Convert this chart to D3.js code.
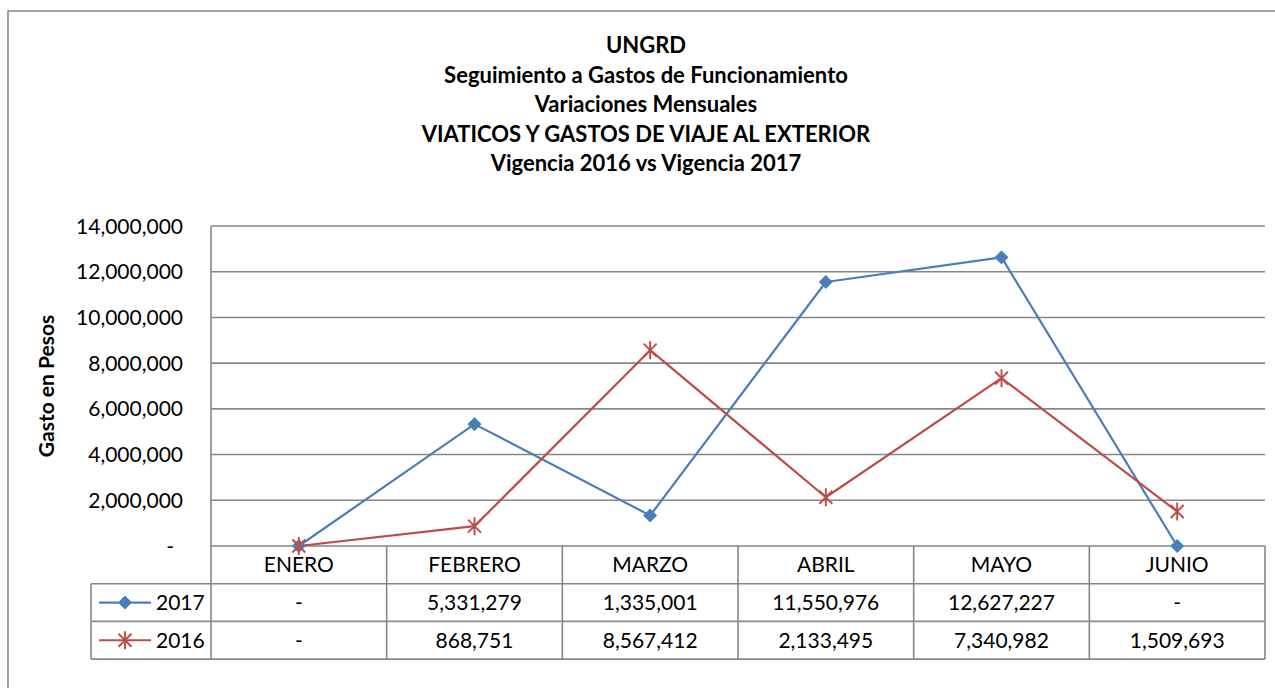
<!DOCTYPE html>
<html>
<head>
<meta charset="utf-8">
<script src="https://cdnjs.cloudflare.com/ajax/libs/d3/7.8.5/d3.min.js"></script>
<style>
  html, body { margin: 0; padding: 0; background: #fff; }
  svg { display: block; font-family: Lato, "Open Sans", sans-serif; }
</style>
</head>
<body>
<svg id="chart" width="1275" height="688"></svg>
<script>
// Monthly travel expenses abroad, 2017 vs 2016
const months = ["ENERO", "FEBRERO", "MARZO", "ABRIL", "MAYO", "JUNIO"];
const values2017 = [0, 5331279, 1335001, 11550976, 12627227, 0];
const values2016 = [0, 868751, 8567412, 2133495, 7340982, 1509693];
const yTicks = [0, 2000000, 4000000, 6000000, 8000000, 10000000, 12000000, 14000000];
const titleLines = [
  "UNGRD",
  "Seguimiento a Gastos de Funcionamiento",
  "Variaciones Mensuales",
  "VIATICOS Y GASTOS DE VIAJE AL EXTERIOR",
  "Vigencia 2016 vs Vigencia 2017"
];
const seriesNames = ["2017", "2016"];

const series = [
  { name: seriesNames[0], values: values2017, color: "#4a7ebb", marker: "diamond" },
  { name: seriesNames[1], values: values2016, color: "#be4b48", marker: "star" }
];

const svg = d3.select("#chart");
const gridColor = "#878787";
const labelSize = 21;

const plot = { left: 211, right: 1265, top: 226, bottom: 546 };
const rowH = 37.7;
const legendLeft = 91;

const x = d3.scaleBand().domain(months).range([plot.left, plot.right]).padding(0);
const y = d3.scaleLinear().domain([0, 14000000]).range([plot.bottom, plot.top]);

const fmt = v => v === 0 ? "-" : d3.format(",")(v);

// Outer frame (top and left edges visible)
svg.append("path")
  .attr("d", `M8,688 V11 H1275`)
  .attr("fill", "none")
  .attr("stroke", gridColor)
  .attr("stroke-width", 1.6);

// Title
const title = svg.append("text")
  .attr("text-anchor", "middle")
  .attr("font-weight", "bold")
  .attr("font-size", 22)
  .attr("fill", "#000");
titleLines.forEach((t, i) => {
  title.append("tspan").attr("x", 646).attr("y", 53 + i * 29.6).text(t);
});

// Horizontal gridlines
svg.append("g")
  .selectAll("line")
  .data(yTicks)
  .join("line")
  .attr("x1", plot.left).attr("x2", plot.right)
  .attr("y1", d => y(d)).attr("y2", d => y(d))
  .attr("stroke", gridColor).attr("stroke-width", 1.6);

// Y axis line
svg.append("line")
  .attr("x1", plot.left).attr("x2", plot.left)
  .attr("y1", plot.top).attr("y2", plot.bottom)
  .attr("stroke", gridColor).attr("stroke-width", 1.6);

// Y axis labels
svg.append("g")
  .selectAll("text")
  .data(yTicks)
  .join("text")
  .attr("x", d => d === 0 ? 174 : 183)
  .attr("y", d => y(d))
  .attr("dy", "0.36em")
  .attr("text-anchor", "end")
  .attr("font-size", labelSize)
  .attr("fill", "#000")
  .text(fmt);

// Y axis title
svg.append("text")
  .attr("transform", `translate(54,${(plot.top + plot.bottom) / 2}) rotate(-90)`)
  .attr("text-anchor", "middle")
  .attr("font-weight", "bold")
  .attr("font-size", 21)
  .attr("fill", "#000")
  .text("Gasto en Pesos");

// Data table
const table = svg.append("g");
const rowTop = i => plot.bottom + rowH * i;
const tableBottom = rowTop(3);

// Column separators
const colEdges = months.map(m => x(m)).concat([plot.right]);
table.selectAll("line.col")
  .data(colEdges)
  .join("line")
  .attr("class", "col")
  .attr("x1", d => d).attr("x2", d => d)
  .attr("y1", plot.bottom).attr("y2", tableBottom)
  .attr("stroke", gridColor).attr("stroke-width", 1.6);

// Legend column left edge
table.append("line")
  .attr("x1", legendLeft).attr("x2", legendLeft)
  .attr("y1", rowTop(1)).attr("y2", tableBottom)
  .attr("stroke", gridColor).attr("stroke-width", 1.6);

// Row separators
[1, 2, 3].forEach(i => {
  table.append("line")
    .attr("x1", legendLeft).attr("x2", plot.right)
    .attr("y1", rowTop(i)).attr("y2", rowTop(i))
    .attr("stroke", gridColor).attr("stroke-width", 1.6);
});

// Category labels
table.selectAll("text.cat")
  .data(months)
  .join("text")
  .attr("class", "cat")
  .attr("x", d => x(d) + x.bandwidth() / 2)
  .attr("y", rowTop(0) + rowH / 2)
  .attr("dy", "0.36em")
  .attr("text-anchor", "middle")
  .attr("font-size", labelSize)
  .attr("fill", "#000")
  .text(d => d);

// Marker shapes
function markerPath(kind) {
  if (kind === "diamond") {
    const r = 6.5;
    return `M0,${-r}L${r},0L0,${r}L${-r},0Z`;
  }
  const r = 9;
  const d = r * 0.72;
  return `M0,${-r}V${r}M${-d},${-d}L${d},${d}M${-d},${d}L${d},${-d}`;
}

function drawMarker(g, kind, color) {
  g.append("path")
    .attr("d", markerPath(kind))
    .attr("fill", kind === "diamond" ? color : "none")
    .attr("stroke", color)
    .attr("stroke-width", kind === "diamond" ? 1 : 1.9);
}

// Series rows in table
series.forEach((s, si) => {
  const cy = rowTop(si + 1) + rowH / 2;
  const lg = table.append("g");
  lg.append("line")
    .attr("x1", 99).attr("x2", 151)
    .attr("y1", cy).attr("y2", cy)
    .attr("stroke", s.color).attr("stroke-width", 2.2);
  drawMarker(lg.append("g").attr("transform", `translate(125,${cy})`), s.marker, s.color);
  lg.append("text")
    .attr("x", 156).attr("y", cy).attr("dy", "0.36em")
    .attr("font-size", labelSize).attr("fill", "#000")
    .text(s.name);

  table.append("g")
    .selectAll("text")
    .data(s.values)
    .join("text")
    .attr("x", (d, i) => x(months[i]) + x.bandwidth() / 2)
    .attr("y", cy)
    .attr("dy", "0.36em")
    .attr("text-anchor", "middle")
    .attr("font-size", labelSize)
    .attr("fill", "#000")
    .text(fmt);
});

// Lines and markers
const line = d3.line()
  .x((d, i) => x(months[i]) + x.bandwidth() / 2)
  .y(d => y(d));

series.forEach(s => {
  svg.append("path")
    .datum(s.values)
    .attr("d", line)
    .attr("fill", "none")
    .attr("stroke", s.color)
    .attr("stroke-width", 2.2)
    .attr("stroke-linejoin", "round");
});

series.forEach(s => {
  const g = svg.append("g");
  s.values.forEach((v, i) => {
    drawMarker(
      g.append("g").attr("transform", `translate(${x(months[i]) + x.bandwidth() / 2},${y(v)})`),
      s.marker, s.color
    );
  });
});
</script>
</body>
</html>
